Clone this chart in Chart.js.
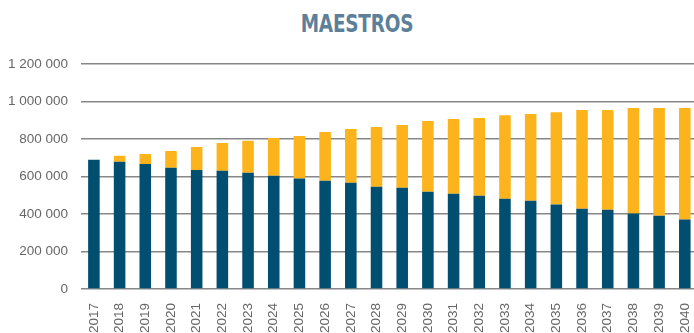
<!DOCTYPE html>
<html>
<head>
<meta charset="utf-8">
<script src="https://cdn.jsdelivr.net/npm/chart.js@4/dist/chart.umd.min.js"></script>
<style>
  html, body { margin: 0; padding: 0; background: #ffffff; }
  #wrap { width: 694px; height: 333px; position: relative; overflow: hidden; }
  #titulo {
    position: absolute; left: 10px; top: 12px; width: 694px; text-align: center;
    font-family: 'DejaVu Sans Condensed', 'DejaVu Sans', sans-serif; font-weight: bold;
    font-size: 20.5px; line-height: 20px; color: #5d7f99; letter-spacing: -0.2px;
    transform: scaleY(1.2); transform-origin: 50% 0;
  }
  #chart { position: absolute; left: 0; top: 0; }
</style>
</head>
<body>
<div id="wrap">
  <div id="titulo">MAESTROS</div>
  <canvas id="chart" width="707" height="333"></canvas>
</div>
<script>
// Years on the horizontal axis
const years = ['2017','2018','2019','2020','2021','2022','2023','2024','2025','2026','2027','2028',
               '2029','2030','2031','2032','2033','2034','2035','2036','2037','2038','2039','2040'];

// Lower segment (dark blue)
const serieBase = [689000, 678000, 667000, 646000, 635000, 630000, 619500, 603600, 589000, 577000, 566000, 545000,
                   540000, 518600, 508000, 497000, 481000, 471000, 450000, 428000, 423000, 402000, 391000, 370000];

// Upper segment (yellow)
const serieExtra = [0, 32000, 53000, 90000, 122600, 149000, 171500, 201400, 227000, 260000, 287000, 319000,
                    334000, 377000, 398000, 414500, 446000, 462000, 493000, 526000, 531000, 563000, 574000, 595000];

// Value axis ticks
const yTicks = [0, 200000, 400000, 600000, 800000, 1000000, 1200000];

const fmt = v => String(v).replace(/\B(?=(\d{3})+(?!\d))/g, ' ');

new Chart(document.getElementById('chart'), {
  type: 'bar',
  data: {
    labels: years,
    datasets: [
      { label: 'Base', data: serieBase, backgroundColor: '#004f71', barPercentage: 0.45, categoryPercentage: 1 },
      { label: 'Extra', data: serieExtra, backgroundColor: '#fdb41c', barPercentage: 0.45, categoryPercentage: 1 }
    ]
  },
  options: {
    responsive: false,
    animation: false,
    layout: { padding: { left: -5, right: 0, top: 64, bottom: -6 } },
    plugins: {
      legend: { display: false },
      tooltip: { enabled: false },
      title: { display: false }
    },
    scales: {
      x: {
        stacked: true,
        grid: { display: false },
        border: { display: false },
        ticks: {
          minRotation: 90, maxRotation: 90,
          color: '#666666',
          padding: 6,
          font: { family: 'Liberation Sans', size: 13.5 }
        }
      },
      y: {
        stacked: true,
        min: 0, max: 1200000,
        afterBuildTicks: axis => { axis.ticks = yTicks.map(v => ({ value: v })); },
        border: { display: false },
        grid: { color: '#878787', lineWidth: 1.5, drawTicks: false },
        ticks: {
          color: '#666666',
          padding: 13,
          font: { family: 'Liberation Sans', size: 13.5 },
          callback: v => fmt(v)
        }
      }
    }
  }
});
</script>
</body>
</html>
